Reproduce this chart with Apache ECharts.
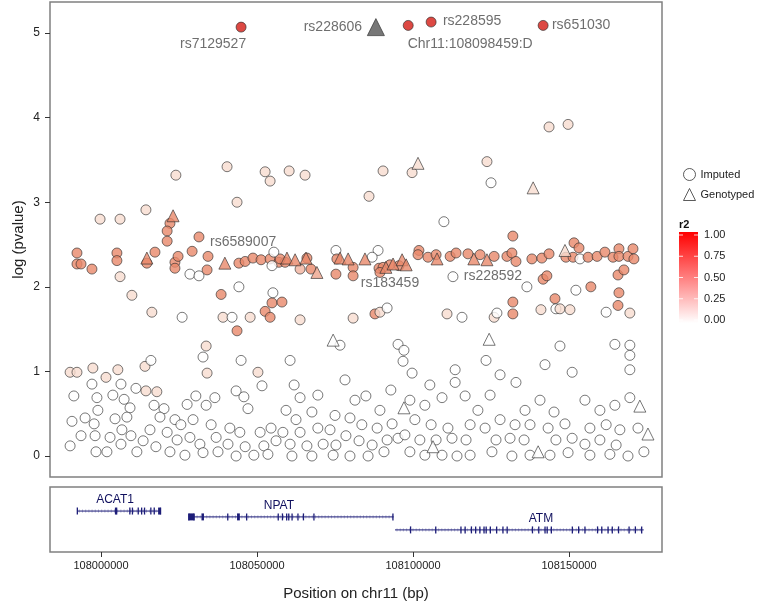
<!DOCTYPE html>
<html><head><meta charset="utf-8">
<script src="https://cdn.jsdelivr.net/npm/echarts@6/dist/echarts.min.js"></script>
<style>html,body{margin:0;padding:0;background:#fff}#c{width:761px;height:602px}</style>
</head><body><div id="c"></div>
<script>
// ---------------- DATA ----------------
// Imputed SNPs: position (kb on chr11), -log10 p, r2
const impKb = [
108044.9,108098.459,108105.8,108141.7,
108143.6,108149.7,108099.7,108123.7,108125.0,108040.4,108052.6,108054.2,108060.3,108065.4,108090.4,108024.0,108085.9,108043.6,108014.4,107999.7,108006.1,108109.9,
108132.0,108151.6,108153.2,108022.1,108021.2,108021.2,108031.4,
107992.3,107992.3,107993.6,107997.1,108005.1,108005.1,108014.7,108017.3,108023.7,108024.7,108023.7,108029.2,108034.3,108034.0,108028.5,108031.4,108006.1,108009.9,108038.5,108044.2,108016.3,108026.0,
108044.2,108046.2,108048.7,108051.3,108054.2,108057.0,108059.0,108057.4,108055.4,108054.8,108063.8,108067.3,108066.0,108075.3,108088.8,108075.6,108080.8,108080.8,108075.3,108086.9,108089.1,108090.4,108092.6,108089.4,108095.5,
108101.9,108101.6,108104.8,108107.4,108111.9,108113.8,108117.6,108121.5,108126.0,108130.1,108131.7,108133.0,108138.1,108141.3,108143.6,108149.0,108151.3,108153.5,108156.1,108159.0,108161.5,108164.1,108166.0,108166.0,108168.9,108170.5,108170.8,
108112.8,108136.5,108141.7,108142.9,108152.2,108157.0,108165.7,108167.6,108166.0,108132.0,108132.0,108145.5,108141.0,108145.8,108147.1,108150.3,108161.9,108165.7,108169.5,108110.9,108115.7,108126.0,108126.9,108087.8,108089.4,108091.7,108080.8,108039.1,108042.0,108047.8,108052.6,108054.2,108054.8,108058.0,108055.1,108063.8,
107990.1,107992.3,107991.3,107990.7,107990.1,107994.9,107997.4,107997.1,107998.7,107999.0,107997.8,107998.1,107998.4,107993.6,
108001.6,108005.4,108006.4,108003.8,108007.4,108009.3,108004.5,108008.3,108006.7,108002.9,108009.6,108006.4,108001.9,108011.5,108011.2,
108014.1,108016.0,108014.4,108017.9,108017.0,108020.2,108018.9,108015.7,108021.2,108013.5,108017.6,108022.1,108023.7,
108032.7,108033.7,108034.0,108027.6,108030.4,108033.7,108036.5,108025.6,108029.5,108035.3,108024.4,108028.5,108031.7,108036.9,108026.9,108032.7,108037.5,
108043.6,108044.9,108043.3,108045.8,108047.1,108041.3,108044.5,108051.0,108054.5,108040.7,108046.2,108052.2,108056.1,108043.3,108049.0,108053.5,108051.6,108050.3,
108060.6,108061.9,108063.8,108059.3,108062.5,108067.6,108058.3,108063.8,108069.5,108073.4,108060.6,108066.0,108071.2,108075.3,108061.2,108067.6,108074.4,108069.5,108075.0,108076.6,
108078.2,108081.4,108084.9,108089.4,108079.8,108083.6,108088.5,108093.3,108078.5,108082.7,108086.9,108091.7,108095.2,108079.8,108085.6,108090.7,108095.2,108097.1,108096.8,108092.9,
108099.7,108099.0,108103.8,108109.3,108100.6,108105.8,108111.2,108097.4,108102.2,108107.4,108112.5,108099.0,108103.8,108109.3,108114.1,108105.4,108113.5,108113.5,
108116.7,108120.8,108124.7,108118.3,108123.1,108127.9,108132.7,108117.0,108126.6,108131.1,108118.3,108125.3,108131.7,108123.4,108127.9,108133.0,
108135.9,108140.7,108145.2,108137.5,108143.3,108148.7,108135.6,108145.8,108151.0,108137.5,108143.9,108149.7,108147.1,108142.3,108151.0,
108155.1,108159.9,108164.7,108169.5,108156.7,108161.9,108166.3,108172.1,108155.1,108159.9,108165.1,108156.7,108163.1,108168.9,108174.0,108164.7,108169.5,108169.5,108169.5
];
const impLogp = [
5.07,5.09,5.13,5.09,
3.89,3.92,3.35,3.48,3.23,3.42,3.36,3.25,3.37,3.32,3.37,3.32,3.07,3.00,2.91,2.80,2.80,2.77,
2.60,2.52,2.46,2.75,2.66,2.54,2.59,
2.40,2.27,2.27,2.21,2.40,2.31,2.28,2.41,2.29,2.36,2.22,2.42,2.36,2.20,2.15,2.13,2.12,1.90,1.91,2.00,1.70,1.64,
2.28,2.30,2.34,2.32,2.33,2.29,2.29,2.33,2.41,2.25,2.21,2.21,2.34,2.43,2.43,2.33,2.23,2.13,2.15,2.35,2.22,2.23,2.26,2.17,2.25,
2.43,2.38,2.35,2.38,2.36,2.40,2.39,2.38,2.36,2.36,2.40,2.30,2.33,2.34,2.39,2.35,2.35,2.33,2.35,2.36,2.41,2.35,2.45,2.36,2.36,2.45,2.33,
2.12,2.00,2.09,2.13,1.96,2.00,2.14,2.20,1.93,1.82,1.68,1.86,1.73,1.74,1.74,1.73,1.70,1.78,1.69,1.68,1.64,1.64,1.69,1.68,1.70,1.75,1.63,1.64,1.64,1.64,1.71,1.64,1.81,1.82,1.93,1.61,
0.99,0.99,0.71,0.41,0.12,0.45,1.04,0.85,0.69,0.54,0.38,0.24,0.05,0.24,
0.93,1.02,0.85,0.72,0.67,0.57,0.44,0.46,0.31,0.22,0.24,0.14,0.05,0.05,0.80,
1.06,1.13,0.77,0.76,0.60,0.56,0.46,0.31,0.28,0.18,0.11,0.05,0.43,
1.17,1.30,0.98,0.61,0.71,0.60,0.69,0.37,0.43,0.37,0.19,0.22,0.14,0.22,0.01,0.04,0.05,
1.48,1.13,0.77,0.70,0.56,0.33,0.28,0.28,0.33,0.14,0.11,0.12,0.18,0.00,0.01,0.02,0.83,0.99,
1.13,0.84,0.69,0.54,0.43,0.52,0.28,0.28,0.33,0.31,0.14,0.12,0.14,0.13,0.00,0.00,0.01,0.72,0.48,1.31,
0.90,0.66,0.71,0.54,0.45,0.37,0.33,0.38,0.24,0.18,0.13,0.19,0.21,0.00,0.00,0.05,1.32,1.25,1.12,0.78,
0.98,0.66,0.60,0.69,0.43,0.37,0.33,0.25,0.19,0.19,0.21,0.05,0.01,0.01,0.00,0.84,0.87,1.02,
0.71,0.54,0.72,0.37,0.33,0.43,0.37,0.19,0.19,0.21,0.01,0.05,0.00,1.13,0.96,0.87,
0.54,0.66,0.52,0.37,0.33,0.38,0.19,0.19,0.21,0.01,0.01,0.04,1.30,1.08,0.99,
0.66,0.54,0.60,0.69,0.33,0.37,0.31,0.33,0.14,0.19,0.13,0.01,0.02,0.00,0.05,1.32,1.31,1.19,1.02
];
const impR2 = [
1,1,1,1,
0.2,0.2,0.2,0.2,0,0.2,0.2,0.2,0.2,0.2,0.2,0.2,0.2,0.2,0.2,0.2,0.2,0,
0.5,0.5,0.5,0.5,0.5,0.5,0.5,
0.5,0.5,0.5,0.5,0.5,0.5,0.5,0.5,0.5,0.5,0.5,0.5,0.5,0.5,0,0,0.2,0.2,0.5,0,0.2,0,
0.5,0.5,0.5,0.5,0.5,0.5,0.5,0.5,0,0,0.35,0.5,0.5,0,0,0.5,0.5,0.5,0.5,0,0.5,0.5,0.5,0.5,0.5,
0.5,0.5,0.5,0.5,0.5,0.5,0.5,0.5,0.5,0.5,0.5,0.5,0.5,0.5,0.5,0.5,0.5,0,0.5,0.5,0.5,0.5,0.5,0.5,0.5,0.5,0.5,
0,0,0.5,0.5,0,0.5,0.5,0.5,0.5,0.5,0.5,0.5,0.2,0,0.2,0.2,0,0.5,0.2,0.2,0,0.2,0,0.5,0.2,0,0.2,0.2,0,0.2,0.5,0.5,0.5,0.5,0,0.2,
0.2,0.2,0,0,0,0,0.2,0,0,0,0,0,0,0,
0.2,0.2,0,0,0,0,0,0,0,0,0,0,0,0,0,
0.2,0,0.2,0.2,0,0,0,0,0,0,0,0,0,
0,0.2,0.2,0,0,0,0,0,0,0,0,0,0,0,0,0,0,
0.5,0,0,0,0,0,0,0,0,0,0,0,0,0,0,0,0,0.2,
0,0,0,0,0,0,0,0,0,0,0,0,0,0,0,0,0,0,0,0,
0,0,0,0,0,0,0,0,0,0,0,0,0,0,0,0,0,0,0,0,
0,0,0,0,0,0,0,0,0,0,0,0,0,0,0,0,0,0,
0,0,0,0,0,0,0,0,0,0,0,0,0,0,0,0,
0,0,0,0,0,0,0,0,0,0,0,0,0,0,0,
0,0,0,0,0,0,0,0,0,0,0,0,0,0,0,0,0,0,0
];
// Genotyped SNPs
const genKb = [108101.6,108138.5,108148.7,108023.1,108014.7,108039.7,108059.6,108062.2,108065.7,108069.2,108076.6,108079.2,108084.6,108091.3,108093.6,108096.5,108097.8,108107.7,108119.5,108123.7,
108074.4,108124.4,108097.1,108106.4,108140.1,108172.7,108175.3];
const genLogp = [3.46,3.17,2.43,2.84,2.34,2.28,2.34,2.32,2.34,2.17,2.34,2.33,2.33,2.23,2.27,2.32,2.26,2.33,2.33,2.32,
1.37,1.38,0.57,0.11,0.05,0.59,0.26];
const genR2 = [0.2,0.2,0.2,0.5,0.5,0.5,0.5,0.5,0.5,0.4,0.5,0.5,0.5,0.5,0.5,0.5,0.5,0.5,0.5,0.5,
0,0,0,0,0,0,0];
// Index SNP
const indexName = 'rs228606', indexKb = 108088.1, indexLogp = 5.07;
// Labelled SNPs
const labelNames = ['rs7129527','rs228606','Chr11:108098459:D','rs228595','rs651030','rs6589007','rs183459','rs228592'];
const labelKb = [108044.9,108088.1,108098.459,108105.8,108141.7,108046.2,108089.1,108112.8];
const labelLogp = [5.07,5.07,5.09,5.13,5.09,2.30,2.22,2.12];
// Genes
const geneNames = ['ACAT1','NPAT','ATM'];
const geneStart = [107992400,108028110,108094230];
const geneEnd = [108019070,108093810,108173940];
const geneExons = [
 [107992400,108004650,108005000,108009230,108010060,108011920,108013010,108013940,108015960,108017050,108019070],
 [108028110,108029840,108040610,108046670,108056790,108058140,108059490,108060160,108061220,108063110,108064870,108068230,108093550],
 [108099200,108107270,108115350,108116690,108118710,108120060,108121410,108122750,108123430,108124770,108126790,108128810,108130160,108138270,108140290,108142300,108142980,108144320,108151050,108153070,108155090,108159130,108160480,108162500,108163850,108165860,108169230,108171250,108173270]
];
const geneBlocks = [
 [[108018300,108019070]],
 [[108028110,108029840],[108032200,108033000],[108043600,108044500]],
 []
];
const xTicks = [108000000,108050000,108100000,108150000];
const yTicks = [0,1,2,3,4,5];
const r2Ticks = [1.00,0.75,0.50,0.25,0.00];

// ---------------- STYLE ----------------
const X_MIN = 107983655, X_MAX = 108179800;
const FONT = 'Liberation Sans, Arial, Helvetica, sans-serif';
const labelStyle = {
 'rs7129527':[-28,17], 'rs228606':[-43,0], 'Chr11:108098459:D':[62,19], 'rs228595':[41,-1],
 'rs651030':[38,0], 'rs6589007':[-2,-19], 'rs183459':[11,15], 'rs228592':[40,-1]
};
// gene row layout (y in gene-panel units, label anchor in kb)
const geneLayout = [ {line:0.63,label:0.80,labelKb:108004.5}, {line:0.54,label:0.72,labelKb:108057.0}, {line:0.34,label:0.52,labelKb:108141.0} ];
const GENE_COLOR = '#1d1d78';

function r2Color(r){
  const st=[[0,[255,255,255]],[0.2,[248,220,208]],[0.5,[233,136,106]],[1,[212,28,20]]];
  for(let i=1;i<st.length;i++){
    if(r<=st[i][0]){const a=st[i-1],b=st[i],t=(r-a[0])/(b[0]-a[0]);
      const c=a[1].map((v,k)=>Math.round(v+(b[1][k]-v)*t));return 'rgb('+c.join(',')+')';}
  }
  return 'rgb(212,28,20)';
}

const impData = impKb.map((k,i)=>[Math.round(k*1000), impLogp[i], impR2[i]]);
const genData = genKb.map((k,i)=>[Math.round(k*1000), genLogp[i], genR2[i]]);
const labData = labelNames.map((n,i)=>({value:[Math.round(labelKb[i]*1000), labelLogp[i]], name:n,
  label:{show:true, formatter:n, position:'inside', offset:labelStyle[n], align:'center', verticalAlign:'middle',
   fontFamily:FONT, fontSize:14, color:'#4a4a4a'}}));
const geneData = geneNames.map((n,i)=>[geneStart[i], geneEnd[i], i]);
const geneLabelData = geneNames.map((n,i)=>({value:[Math.round(geneLayout[i].labelKb*1000), geneLayout[i].label], name:n,
  label:{show:true, formatter:n, position:'inside', align:'center', verticalAlign:'middle',
   fontFamily:FONT, fontSize:12, color:'#10105e', opacity:1}}));

const chart = echarts.init(document.getElementById('c'), null, {renderer:'canvas'});

const barTop=232, barBot=323, barX=679, barW=19;
function r2y(v){ return barTop+3 + (1-v)*(barBot-barTop-6); }
const graphics = [
 {type:'text', left:679, top:219, style:{text:'r2', font:'bold 11px '+FONT, fill:'#111'}},
 {type:'rect', shape:{x:barX,y:barTop,width:barW,height:barBot-barTop},
  style:{fill:{type:'linear',x:0,y:0,x2:0,y2:1,colorStops:[{offset:0,color:'#ff0000'},{offset:1,color:'#ffffff'}]}}}
];
r2Ticks.forEach(v=>{
  const y=r2y(v);
  graphics.push({type:'line',shape:{x1:barX,y1:y,x2:barX+4,y2:y},style:{stroke:'rgba(255,255,255,0.8)',lineWidth:1}});
  graphics.push({type:'line',shape:{x1:barX+barW-4,y1:y,x2:barX+barW,y2:y},style:{stroke:'rgba(255,255,255,0.8)',lineWidth:1}});
  graphics.push({type:'text',x:704,y:y,style:{text:v.toFixed(2),font:'11px '+FONT,fill:'#222',verticalAlign:'middle'}});
});

chart.setOption({
 animation:false,
 backgroundColor:'#fff',
 grid:[
  {left:50, top:2, width:612, height:475, show:true, borderColor:'#808080', borderWidth:1.5, backgroundColor:'#fff'},
  {left:50, top:487, width:612, height:65, show:true, borderColor:'#808080', borderWidth:1.5, backgroundColor:'#fff'}
 ],
 xAxis:[
  {type:'value', gridIndex:0, min:X_MIN, max:X_MAX, show:false},
  {type:'value', gridIndex:1, min:X_MIN, max:X_MAX, splitLine:{show:false}, axisLine:{show:false},
   axisTick:{show:true, length:5, lineStyle:{color:'#333'}, customValues:xTicks},
   axisLabel:{customValues:xTicks, formatter:v=>String(v), fontFamily:FONT, fontSize:11, color:'#222', margin:8},
   name:'Position on chr11 (bp)', nameLocation:'middle', nameGap:34, nameMoveOverlap:false,
   nameTextStyle:{fontFamily:FONT, fontSize:15, color:'#222'}}
 ],
 yAxis:[
  {type:'value', gridIndex:0, min:-0.248, max:5.367, splitLine:{show:false}, axisLine:{show:false},
   axisTick:{show:true, length:5, lineStyle:{color:'#333'}, customValues:yTicks},
   axisLabel:{customValues:yTicks, fontFamily:FONT, fontSize:12, color:'#222', margin:10},
   name:'log (pvalue)', nameLocation:'middle', nameGap:24, nameMoveOverlap:false,
   nameTextStyle:{fontFamily:FONT, fontSize:15, color:'#222'}},
  {type:'value', gridIndex:1, min:0, max:1, show:false}
 ],
 legend:{
  orient:'vertical', left:678, top:163, itemWidth:12, itemHeight:12, itemGap:7,
  textStyle:{fontFamily:FONT, fontSize:11, color:'#222'},
  data:[
   {name:'Imputed', icon:'circle', itemStyle:{color:'#fff', borderColor:'#333', borderWidth:1}},
   {name:'Genotyped', icon:'triangle', itemStyle:{color:'#fff', borderColor:'#333', borderWidth:1}}
  ]
 },
 graphic:graphics,
 series:[
  {name:'Imputed', type:'scatter', xAxisIndex:0, yAxisIndex:0, symbol:'circle', symbolSize:10, data:impData,
   itemStyle:{color:p=>r2Color(p.data[2]), borderColor:'#2a2a2a', borderWidth:0.8}, z:3},
  {name:'Genotyped', type:'scatter', xAxisIndex:0, yAxisIndex:0, symbol:'triangle', symbolSize:12, data:genData,
   itemStyle:{color:p=>r2Color(p.data[2]), borderColor:'#2a2a2a', borderWidth:0.8}, z:4},
  {name:indexName, type:'scatter', xAxisIndex:0, yAxisIndex:0, symbol:'triangle', symbolSize:17,
   data:[[Math.round(indexKb*1000), indexLogp]], itemStyle:{color:'#555555', borderColor:'#444'}, z:5},
  {name:'labels', type:'scatter', xAxisIndex:0, yAxisIndex:0, symbolSize:1, data:labData,
   itemStyle:{color:'rgba(0,0,0,0)'}, z:6, silent:true},
  {name:'geneLabels', type:'scatter', xAxisIndex:1, yAxisIndex:1, symbolSize:1, data:geneLabelData,
   itemStyle:{color:'rgba(0,0,0,0)'}, z:6, silent:true},
  {name:'genes', type:'custom', xAxisIndex:1, yAxisIndex:1, data:geneData, z:3,
   renderItem:function(params, api){
     const i = api.value(2), L = geneLayout[i];
     const p0 = api.coord([api.value(0), L.line]), p1 = api.coord([api.value(1), L.line]);
     const y = p0[1];
     const ch = [];
     ch.push({type:'line', shape:{x1:p0[0], y1:y, x2:p1[0], y2:y}, style:{stroke:GENE_COLOR, lineWidth:1}});
     for(let x=p0[0]+2; x<p1[0]-1; x+=3.2){
       ch.push({type:'line', shape:{x1:x, y1:y-1.6, x2:x, y2:y+1.6}, style:{stroke:GENE_COLOR, lineWidth:0.5, opacity:0.6}});
     }
     geneExons[i].forEach(e=>{ const px=api.coord([e, L.line])[0];
       ch.push({type:'rect', shape:{x:px-0.6, y:y-3.5, width:1.3, height:7}, style:{fill:GENE_COLOR}}); });
     geneBlocks[i].forEach(b=>{ const a=api.coord([b[0], L.line])[0], c=api.coord([b[1], L.line])[0];
       ch.push({type:'rect', shape:{x:a, y:y-3.5, width:Math.max(c-a,2.5), height:7}, style:{fill:GENE_COLOR}}); });
     return {type:'group', children:ch};
   }}
 ]
});
</script></body></html>
